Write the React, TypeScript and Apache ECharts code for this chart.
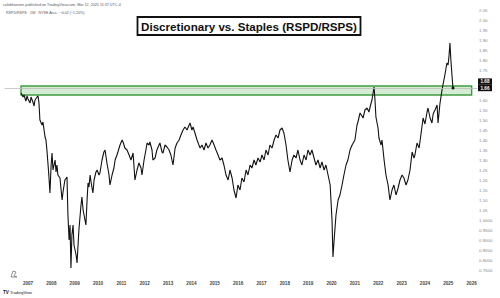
import { useEffect, useRef } from "react";
import * as echarts from "echarts";

// Weekly RSPD/RSPS ratio, sampled as decimal years
const years = [
  2006.70, 2006.79, 2006.83, 2006.91, 2006.96, 2007.00, 2007.09, 2007.13, 2007.21, 2007.26,
  2007.30, 2007.39, 2007.43, 2007.47, 2007.51, 2007.60, 2007.64, 2007.73, 2007.77, 2007.81,
  2007.86, 2007.90, 2007.94, 2007.99, 2008.03, 2008.07, 2008.16, 2008.20, 2008.24, 2008.28,
  2008.37, 2008.41, 2008.46, 2008.50, 2008.58, 2008.67, 2008.71, 2008.76, 2008.80, 2008.84,
  2008.88, 2008.93, 2008.97, 2009.06, 2009.10, 2009.18, 2009.27, 2009.31, 2009.36, 2009.44,
  2009.48, 2009.53, 2009.57, 2009.61, 2009.66, 2009.70, 2009.78, 2009.83, 2009.91, 2009.96,
  2010.04, 2010.08, 2010.17, 2010.25, 2010.30, 2010.38, 2010.47, 2010.51, 2010.60, 2010.68,
  2010.73, 2010.81, 2010.85, 2010.94, 2011.03, 2011.07, 2011.15, 2011.24, 2011.33, 2011.41,
  2011.50, 2011.58, 2011.67, 2011.75, 2011.84, 2011.88, 2011.97, 2012.05, 2012.10, 2012.18,
  2012.22, 2012.31, 2012.35, 2012.44, 2012.52, 2012.61, 2012.65, 2012.74, 2012.78, 2012.87,
  2012.95, 2013.04, 2013.12, 2013.21, 2013.30, 2013.38, 2013.47, 2013.55, 2013.64, 2013.72,
  2013.81, 2013.90, 2013.94, 2014.02, 2014.07, 2014.15, 2014.24, 2014.32, 2014.37, 2014.45,
  2014.54, 2014.62, 2014.71, 2014.79, 2014.88, 2014.97, 2015.05, 2015.14, 2015.22, 2015.31,
  2015.39, 2015.48, 2015.57, 2015.65, 2015.74, 2015.82, 2015.91, 2015.99, 2016.08, 2016.16,
  2016.25, 2016.34, 2016.42, 2016.51, 2016.59, 2016.68, 2016.76, 2016.85, 2016.94, 2017.02,
  2017.11, 2017.19, 2017.28, 2017.36, 2017.45, 2017.54, 2017.62, 2017.71, 2017.79, 2017.88,
  2017.96, 2018.05, 2018.13, 2018.22, 2018.31, 2018.39, 2018.48, 2018.56, 2018.65, 2018.73,
  2018.82, 2018.91, 2018.99, 2019.08, 2019.16, 2019.25, 2019.33, 2019.42, 2019.51, 2019.59,
  2019.68, 2019.76, 2019.85, 2019.94, 2020.02, 2020.06, 2020.11, 2020.19, 2020.28, 2020.36,
  2020.45, 2020.53, 2020.62, 2020.70, 2020.79, 2020.88, 2021.00, 2021.09, 2021.13, 2021.22,
  2021.35, 2021.43, 2021.52, 2021.60, 2021.65, 2021.73, 2021.82, 2021.86, 2021.90, 2021.99,
  2022.03, 2022.12, 2022.16, 2022.25, 2022.33, 2022.42, 2022.50, 2022.59, 2022.67, 2022.76,
  2022.85, 2022.93, 2023.02, 2023.10, 2023.19, 2023.27, 2023.36, 2023.45, 2023.53, 2023.57,
  2023.66, 2023.75, 2023.83, 2023.92, 2024.00, 2024.09, 2024.13, 2024.22, 2024.30, 2024.35,
  2024.43, 2024.52, 2024.56, 2024.64, 2024.73, 2024.77, 2024.86, 2024.94, 2024.99, 2025.03,
  2025.07, 2025.11, 2025.16, 2025.20,
];

const ratio = [
  1.635, 1.615, 1.625, 1.595, 1.62, 1.605, 1.585, 1.615, 1.59, 1.57,
  1.60, 1.615, 1.62, 1.585, 1.50, 1.475, 1.49, 1.415, 1.40, 1.35,
  1.275, 1.21, 1.135, 1.275, 1.335, 1.25, 1.30, 1.24, 1.275, 1.225,
  1.21, 1.16, 1.10, 1.14, 1.20, 1.215, 1.025, 0.90, 0.975, 0.76,
  0.925, 0.975, 0.875, 0.825, 0.785, 0.95, 1.075, 1.115, 1.05, 1.00,
  0.975, 1.10, 1.185, 1.165, 1.225, 1.19, 1.135, 1.20, 1.24, 1.25,
  1.225, 1.235, 1.30, 1.34, 1.35, 1.285, 1.225, 1.175, 1.225, 1.26,
  1.30, 1.325, 1.34, 1.375, 1.40, 1.39, 1.36, 1.35, 1.325, 1.30,
  1.335, 1.20, 1.25, 1.285, 1.26, 1.225, 1.30, 1.35, 1.385, 1.375,
  1.39, 1.35, 1.30, 1.31, 1.35, 1.375, 1.385, 1.34, 1.335, 1.375,
  1.365, 1.35, 1.325, 1.275, 1.36, 1.385, 1.40, 1.425, 1.45, 1.465,
  1.45, 1.475, 1.485, 1.45, 1.465, 1.435, 1.40, 1.375, 1.36, 1.375,
  1.35, 1.385, 1.36, 1.375, 1.40, 1.375, 1.35, 1.325, 1.30, 1.31,
  1.275, 1.225, 1.20, 1.25, 1.21, 1.15, 1.11, 1.175, 1.15, 1.21,
  1.19, 1.25, 1.225, 1.275, 1.26, 1.30, 1.275, 1.31, 1.29, 1.325,
  1.30, 1.35, 1.325, 1.375, 1.36, 1.40, 1.425, 1.41, 1.45, 1.46,
  1.435, 1.375, 1.30, 1.24, 1.30, 1.325, 1.31, 1.35, 1.30, 1.275,
  1.325, 1.30, 1.35, 1.325, 1.35, 1.31, 1.275, 1.30, 1.26, 1.29,
  1.25, 1.275, 1.225, 1.175, 1.00, 0.815, 0.90, 1.025, 1.10, 1.125,
  1.175, 1.225, 1.275, 1.30, 1.35, 1.375, 1.40, 1.475, 1.49, 1.535,
  1.51, 1.55, 1.56, 1.54, 1.565, 1.60, 1.665, 1.60, 1.515, 1.46,
  1.41, 1.375, 1.40, 1.30, 1.225, 1.175, 1.10, 1.15, 1.175, 1.125,
  1.16, 1.20, 1.225, 1.21, 1.175, 1.20, 1.25, 1.34, 1.31, 1.325,
  1.385, 1.36, 1.43, 1.51, 1.48, 1.54, 1.56, 1.51, 1.485, 1.53,
  1.55, 1.575, 1.485, 1.58, 1.65, 1.675, 1.73, 1.785, 1.775, 1.82,
  1.885, 1.80, 1.72, 1.66,
];

// Resistance zone
const zoneStart = 2006.7;
const zoneEnd = 2026.0;
const zoneTop = 1.67;
const zoneBottom = 1.625;

// Right-scale price tags (upper, lower = last close)
const priceTags = ["1.68", "1.66"];
// Scale labels covered by the price tags
const hiddenScaleLabels = [1.65, 1.7];

const titleText = "Discretionary vs. Staples (RSPD/RSPS)";
const publishedText = "calebfranzen published on TradingView.com, Mar 12, 2025 11:37 UTC-4";
const symbolText = "RSPD/RSPS · 1W · NYSE Arca · \u22120.02 (\u22121.20%)";

const FONT = "Liberation Sans, Arial, sans-serif";

const fmtPrice = (v: number) => {
  if (v < 0.745 || v > 2.055) return "";
  if (hiddenScaleLabels.some((h) => Math.abs(h - v) < 1e-6)) return "";
  return v < 1.001 ? v.toFixed(4) : v.toFixed(2);
};

export default function App() {
  const ref = useRef<HTMLDivElement>(null);

  useEffect(() => {
    if (!ref.current) return;
    const chart = echarts.init(ref.current, undefined, { renderer: "svg" });
    const points = years.map((y, i) => [y, ratio[i]]);
    const last = points[points.length - 1];

    chart.setOption({
      animation: false,
      backgroundColor: "#ffffff",
      textStyle: { fontFamily: FONT },
      grid: { left: 4.65, right: 22.5, top: 0, bottom: 18 },
      xAxis: {
        type: "value",
        min: 2006,
        max: 2026.25,
        interval: 1,
        axisLine: { show: false },
        axisTick: { show: false },
        splitLine: { show: false },
        axisLabel: {
          showMaxLabel: false,
          margin: 1,
          fontSize: 4.6,
          color: "#444",
          fontWeight: "bold",
          formatter: (v: number) => (v === 2006 || v > 2026 ? "" : String(v)),
        },
      },
      yAxis: {
        type: "value",
        position: "right",
        min: 0.7,
        max: 2.1,
        interval: 0.05,
        axisLine: { show: false },
        axisTick: { show: false },
        splitLine: { show: false },
        axisLabel: {
          margin: 1.5,
          fontSize: 4.4,
          color: "#888",
          formatter: fmtPrice,
        },
      },
      series: [
        {
          type: "line",
          data: [],
          z: 1,
          markLine: {
            silent: true,
            symbol: "none",
            label: { show: false },
            lineStyle: { color: "#bdbdbd", width: 0.8, type: "solid" },
            data: [{ yAxis: last[1] }],
          },
        },
        {
          type: "line",
          data: [],
          z: 2,
          markArea: {
            silent: true,
            itemStyle: {
              color: "#d5ecd4",
              borderColor: "#3f9c3f",
              borderWidth: 1.4,
            },
            data: [[{ xAxis: zoneStart, yAxis: zoneTop }, { xAxis: zoneEnd, yAxis: zoneBottom }]],
          },
        },
        {
          type: "line",
          data: points,
          z: 3,
          showSymbol: false,
          lineStyle: { color: "#111111", width: 1.1 },
          markPoint: {
            symbol: "circle",
            symbolSize: 3,
            itemStyle: { color: "#111111" },
            label: { show: false },
            data: [{ coord: last }],
          },
        },
      ],
    });

    const yLast = chart.convertToPixel({ yAxisIndex: 0 }, last[1]) as number;
    const tagH = 6.4;
    const tagX = 478;
    const tagW = 14;

    chart.setOption({
      graphic: [
        // header lines
        {
          type: "text",
          left: 3,
          top: 3,
          style: { text: publishedText, fontSize: 3.7, fill: "#555", fontFamily: FONT },
        },
        {
          type: "text",
          left: 6,
          top: 11.2,
          style: { text: symbolText, fontSize: 3.6, fill: "#555", fontFamily: FONT },
        },
        // title box
        {
          type: "rect",
          shape: { x: 137.5, y: 17, width: 223, height: 18 },
          style: { fill: "#ffffff", stroke: "#111111", lineWidth: 1.8 },
          z: 10,
        },
        {
          type: "text",
          x: 249,
          y: 26.3,
          z: 11,
          style: {
            text: titleText,
            fontSize: 11.6,
            fontWeight: "bold",
            fill: "#111111",
            align: "center",
            verticalAlign: "middle",
            fontFamily: FONT,
          },
        },
        // price tags
        {
          type: "rect",
          shape: { x: tagX, y: yLast - tagH * 1.5, width: tagW, height: tagH },
          style: { fill: "#111111" },
          z: 10,
        },
        {
          type: "text",
          x: tagX + tagW / 2,
          y: yLast - tagH,
          z: 11,
          style: {
            text: priceTags[0],
            fontSize: 4.6,
            fontWeight: "bold",
            fill: "#ffffff",
            align: "center",
            verticalAlign: "middle",
            fontFamily: FONT,
          },
        },
        {
          type: "rect",
          shape: { x: tagX, y: yLast - tagH / 2, width: tagW, height: tagH },
          style: { fill: "#111111" },
          z: 10,
        },
        {
          type: "text",
          x: tagX + tagW / 2,
          y: yLast,
          z: 11,
          style: {
            text: priceTags[1],
            fontSize: 4.6,
            fontWeight: "bold",
            fill: "#ffffff",
            align: "center",
            verticalAlign: "middle",
            fontFamily: FONT,
          },
        },
        // drawing-tool icon
        {
          type: "polyline",
          shape: { points: [[11, 277], [13, 271], [16, 272], [14, 276], [17, 277], [11, 277]] },
          style: { fill: "none", stroke: "#666", lineWidth: 0.7 },
        },
        // TradingView mark
        {
          type: "text",
          left: 3,
          top: 289.8,
          style: { text: "TV", fontSize: 4.6, fontWeight: 900, fill: "#131722", fontFamily: FONT },
        },
        {
          type: "text",
          left: 10,
          top: 290.2,
          style: { text: "TradingView", fontSize: 4, fill: "#131722", fontFamily: FONT },
        },
      ],
    });

    return () => chart.dispose();
  }, []);

  return (
    <div
      ref={ref}
      style={{ position: "fixed", left: 0, top: 0, width: 500, height: 298, background: "#fff" }}
    />
  );
}
